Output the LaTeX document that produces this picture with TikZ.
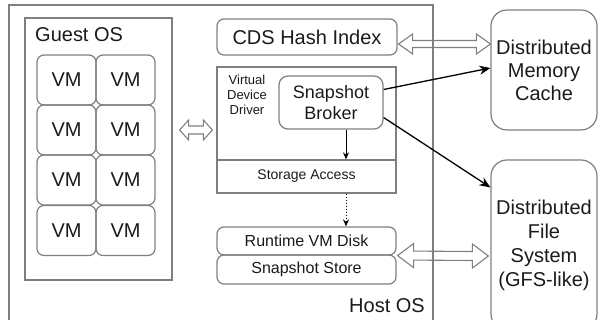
\documentclass[tikz,border=0pt]{standalone}
\usepackage{fontspec}
\setmainfont{Liberation Sans}
\usetikzlibrary{calc,arrows.meta}
\definecolor{boxgray}{HTML}{7F7F7F}
\definecolor{txt}{HTML}{1A1A1A}
\newcommand\hollowarrow[5]{%
  \draw[hollow] (#1) -- ($(#1)+(#3,#4)$) -- ($(#1)+(#3,#5)$) -- ($(#2)+(-#3,#5)$) -- ($(#2)+(-#3,#4)$) -- (#2)
    -- ($(#2)+(-#3,-#4)$) -- ($(#2)+(-#3,-#5)$) -- ($(#1)+(#3,-#5)$) -- ($(#1)+(#3,-#4)$) -- cycle;}
\begin{document}
\begin{tikzpicture}[x=1pt,y=-1pt,
  box/.style={draw=boxgray,line width=1.2pt,rounded corners=7pt,inner sep=0pt,text=txt,align=center},
  sq/.style={draw=boxgray,line width=1.2pt,inner sep=0pt,text=txt,align=center},
  hollow/.style={draw=boxgray,fill=none,line width=1.1pt,line join=miter},
  blk/.style={-{Stealth[length=11pt,width=9pt]},line width=1.3pt,black},
  f20/.style={font=\fontsize{20}{23}\selectfont},
]
\useasboundingbox (0,0) rectangle (598,320);
\begin{scope}
\clip (0,0) rectangle (598,320);
% host
\node[sq,minimum width=424pt,minimum height=330pt] (host) at (221,170) {};
\node[text=txt,f20,anchor=base east,inner sep=0pt] (hostlbl) at (425,313) {Host OS};
% guest
\node[sq,minimum width=147pt,minimum height=262pt] (guest) at (98.5,149) {};
\node[text=txt,f20,anchor=base west,inner sep=0pt] (guestlbl) at (35,42) {Guest OS};
\foreach \c/\x in {1/66.5,2/125.5}{
  \foreach \r/\y in {1/80,2/130,3/180,4/230.5}{
    \node[box,f20,minimum width=59pt,minimum height=50pt] (vm\c\r) at (\x,\y) {VM};
  }
}
% CDS
\node[box,f20,minimum width=180pt,minimum height=36pt] (cds) at (307,37) {CDS Hash Index};
% virtual device driver
\node[sq,minimum width=179pt,minimum height=126pt] (vdd) at (306.5,130) {};
\node[sq,font=\fontsize{14}{16}\selectfont,minimum width=179pt,minimum height=33pt] (sa) at (306.5,176.5) {Storage Access};
\node[text=txt,align=center,inner sep=0pt,font=\fontsize{13}{15}\selectfont] (vddl) at (247,95) {Virtual\\Device\\Driver};
\node[box,rounded corners=9pt,font=\fontsize{18}{21}\selectfont,minimum width=104pt,minimum height=53pt] (sb) at (331,102.5) {Snapshot\\Broker};
% disks
\node[box,font=\fontsize{16}{18}\selectfont,minimum width=179pt,minimum height=28pt] (rvd) at (306.5,241) {Runtime VM Disk};
\node[box,font=\fontsize{16}{18}\selectfont,minimum width=179pt,minimum height=29pt] (ss) at (306.5,269.5) {Snapshot Store};
% distributed
\node[box,rounded corners=16pt,font=\fontsize{20}{23}\selectfont,minimum width=106pt,minimum height=120pt] (dmc) at (544,70) {Distributed\\Memory\\Cache};
\node[box,rounded corners=16pt,font=\fontsize{20}{24}\selectfont,minimum width=106pt,minimum height=170pt] (dfs) at (544,245) {Distributed\\File\\System\\(GFS-like)};
% black arrows
\draw[blk] ($(sb.east)+(0,-13)$) -- ($(dmc.west)+(0,-2)$);
\draw[blk] ($(sb.east)+(0,15)$) -- ($(dfs.north west)+(0,28)$);
\draw[-{Stealth[length=7pt,width=6pt]},line width=1pt] ($(sb.south)+(15,0)$) coordinate (p) -- (p |- sa.north);
\draw[-{Stealth[length=7pt,width=6pt]},line width=1pt,dotted] (p |- sa.south) -- (p |- rvd.north);
% hollow arrows
\coordinate (h1a) at ($(cds.east)+(1,7)$);
\coordinate (h1b) at ($(dmc.west)+(0,-26)$);
\coordinate (h2a) at ($(guest.east)+(7,-19)$);
\coordinate (h2b) at ($(vdd.west)+(-4,0)$);
\coordinate (h3a) at ($(rvd.south east)+(1,0)$);
\coordinate (h3b) at ($(dfs.west)+(-2,11)$);
\hollowarrow{h1a}{h1b}{14}{10}{3.5}
\hollowarrow{h2a}{h2b}{9}{10}{4}
\hollowarrow{h3a}{h3b}{16}{12}{4.5}
\end{scope}
\end{tikzpicture}
\end{document}
